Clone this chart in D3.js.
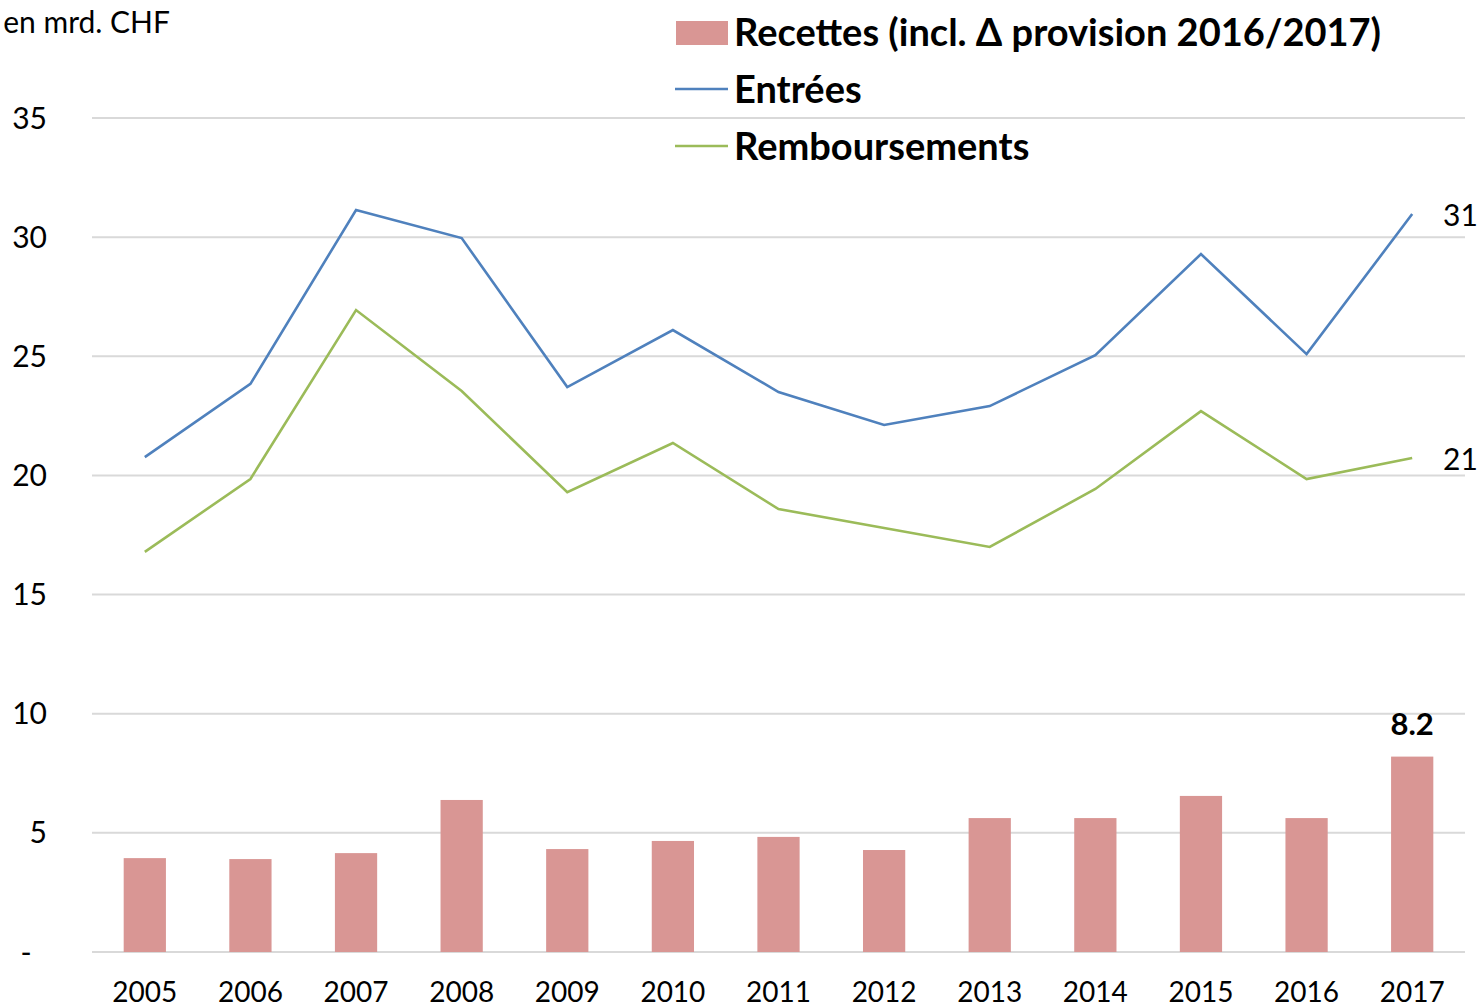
<!DOCTYPE html>
<html><head><meta charset="utf-8">
<script src="https://cdn.jsdelivr.net/npm/d3@7"></script>
<style>
html,body{margin:0;padding:0;background:#fff;}
svg text{font-family:Lato,"Open Sans",sans-serif;}
</style></head>
<body>
<svg id="c" width="1484" height="1007"></svg>
<script>
const years = ["2005","2006","2007","2008","2009","2010","2011","2012","2013","2014","2015","2016","2017"];
const recettes = [3.94,3.90,4.15,6.38,4.32,4.66,4.83,4.28,5.62,5.62,6.55,5.62,8.2];
const entrees = [20.77,23.84,31.14,29.96,23.71,26.10,23.50,22.12,22.91,25.05,29.29,25.09,30.97];
const remboursements = [16.79,19.85,26.94,23.54,19.30,21.36,18.59,17.79,17.00,19.43,22.70,19.85,20.73];
const yTicks = [0,5,10,15,20,25,30,35];
const yTickLabels = ["-","5","10","15","20","25","30","35"];
const seriesNames = ["Recettes (incl. \u0394 provision 2016/2017)","Entr\u00e9es","Remboursements"];

(function(){
const svg = d3.select("#c");
const pL = 92, pR = 1465, pT = 118, pB = 952;
const x = d3.scaleBand().domain(years).range([pL, pR]).paddingInner(0.6).paddingOuter(0.3);
const y = d3.scaleLinear().domain([0,35]).range([pB, pT]);
const cx = d => x(d) + x.bandwidth()/2;

svg.append("g").selectAll("line").data(yTicks).join("line")
  .attr("x1", pL).attr("x2", pR)
  .attr("y1", d => y(d)).attr("y2", d => y(d))
  .attr("stroke", "#d9d9d9").attr("stroke-width", 2);

svg.append("g").selectAll("text").data(yTicks).join("text")
  .attr("x", d => d === 0 ? 26 : 47)
  .attr("y", d => y(d))
  .attr("dy", "0.35em")
  .attr("text-anchor", d => d === 0 ? "middle" : "end")
  .attr("font-size", 30).attr("fill", "#000")
  .text((d,i) => yTickLabels[i]);

svg.append("g").selectAll("text").data(years).join("text")
  .attr("x", d => cx(d)).attr("y", 1002)
  .attr("text-anchor", "middle").attr("font-size", 28).attr("fill", "#000")
  .text(d => d);

svg.append("g").selectAll("rect").data(years).join("rect")
  .attr("x", d => x(d)).attr("width", x.bandwidth())
  .attr("y", (d,i) => y(recettes[i]))
  .attr("height", (d,i) => y(0) - y(recettes[i]))
  .attr("fill", "#d99694");

const line = d3.line().x((d,i) => cx(years[i])).y(d => y(d));
svg.append("path").datum(entrees).attr("d", line)
  .attr("fill","none").attr("stroke","#4f81bd").attr("stroke-width",2.6);
svg.append("path").datum(remboursements).attr("d", line)
  .attr("fill","none").attr("stroke","#9bbb59").attr("stroke-width",2.6);

const last = years.length - 1;
svg.append("text").attr("x", 1443).attr("y", y(entrees[last]) + 1).attr("dy","0.35em")
  .attr("font-size", 30).text(Math.round(entrees[last]));
svg.append("text").attr("x", 1443).attr("y", y(remboursements[last]) + 1).attr("dy","0.35em")
  .attr("font-size", 30).text(Math.round(remboursements[last]));
svg.append("text").attr("x", cx(years[last])).attr("y", y(recettes[last]) - 22)
  .attr("text-anchor","middle").attr("font-size", 31).attr("font-weight","bold")
  .text(recettes[last].toFixed(1));

svg.append("text").attr("x", 170).attr("y", 33).attr("text-anchor","end")
  .attr("font-size", 30).text("en mrd. CHF");

const lg = svg.append("g");
lg.append("rect").attr("x", 676).attr("y", 21).attr("width", 52).attr("height", 24).attr("fill", "#d99694");
lg.append("line").attr("x1", 675).attr("x2", 728).attr("y1", 89).attr("y2", 89)
  .attr("stroke","#4f81bd").attr("stroke-width",2.6);
lg.append("line").attr("x1", 675).attr("x2", 728).attr("y1", 146).attr("y2", 146)
  .attr("stroke","#9bbb59").attr("stroke-width",2.6);
lg.selectAll("text").data(seriesNames).join("text")
  .attr("x", 734).attr("y", (d,i) => 33 + i*57).attr("dy","0.35em")
  .attr("font-size", 38).attr("font-weight","bold").text(d => d);
})();
</script>
</body></html>
